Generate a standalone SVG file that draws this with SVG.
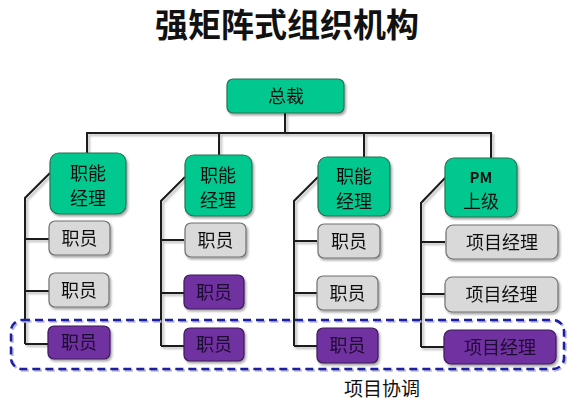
<svg xmlns="http://www.w3.org/2000/svg" width="574" height="400" viewBox="0 0 574 400">
<defs>
<filter id="sh" x="-20%" y="-20%" width="140%" height="150%">
<feDropShadow dx="1.5" dy="2" stdDeviation="1.2" flood-color="#000" flood-opacity="0.35"/>
</filter>
<filter id="lsh" x="-10%" y="-10%" width="120%" height="120%">
<feDropShadow dx="2" dy="2" stdDeviation="0.8" flood-color="#888" flood-opacity="0.6"/>
</filter>
</defs>
<style>
text{font-family:"Noto Sans CJK SC","Noto Sans",sans-serif;text-anchor:middle;fill:#111}
.title{font-size:33px;font-weight:700}
.g{fill:#00C88F;stroke:#2E6E55;stroke-width:1.2}
.n{fill:#D9D9D9;stroke:#707070;stroke-width:1.2}
.p{fill:#7030A0;stroke:#3C1A5A;stroke-width:1.2}
.t{font-size:18px}
.pt{font-size:18px;fill:#1E0A30}
.pm{font-size:15px;font-weight:700}
.c line,.c polyline{stroke:#1a1a1a;stroke-width:2;fill:none}
.lbl{font-size:19px}
</style>
<text class="title" x="287" y="37">强矩阵式组织机构</text>
<g class="c" filter="url(#lsh)">
<line x1="285" y1="113" x2="285" y2="133"/>
<line x1="86" y1="133" x2="492" y2="133"/>
<line x1="87" y1="133" x2="87" y2="153"/>
<line x1="219" y1="133" x2="219" y2="155"/>
<line x1="364" y1="133" x2="364" y2="157"/>
<line x1="491" y1="133" x2="491" y2="158"/>
<polyline points="50,173 25,198 25,344"/>
<line x1="25" y1="239" x2="49" y2="239"/>
<line x1="25" y1="291" x2="49" y2="291"/>
<line x1="25" y1="344" x2="48" y2="344"/>
<polyline points="185,177 161,201 161,346"/>
<line x1="161" y1="240" x2="184" y2="240"/>
<line x1="161" y1="293" x2="184" y2="293"/>
<line x1="161" y1="346" x2="184" y2="346"/>
<polyline points="318,177 294,201 294,346"/>
<line x1="294" y1="241" x2="317" y2="241"/>
<line x1="294" y1="293" x2="317" y2="293"/>
<line x1="294" y1="346" x2="317" y2="346"/>
<polyline points="446,177 421,203 421,347"/>
<line x1="421" y1="242" x2="445" y2="242"/>
<line x1="421" y1="294" x2="445" y2="294"/>
<line x1="421" y1="347" x2="444" y2="347"/>
</g>
<g id="ceo" filter="url(#sh)"><rect class="g" x="227" y="79" width="117" height="34" rx="6"/><text class="t" x="286" y="103">总裁</text></g>
<g id="fm1" filter="url(#sh)"><rect class="g" x="50" y="153" width="76" height="61" rx="9"/><text class="t" x="88" y="180">职能</text><text class="t" x="88" y="205">经理</text></g>
<g id="fm2" filter="url(#sh)"><rect class="g" x="185" y="155" width="67" height="61" rx="9"/><text class="t" x="218" y="182">职能</text><text class="t" x="218" y="207">经理</text></g>
<g id="fm3" filter="url(#sh)"><rect class="g" x="318" y="157" width="72" height="59" rx="9"/><text class="t" x="354" y="183">职能</text><text class="t" x="354" y="208">经理</text></g>
<g id="pm" filter="url(#sh)"><rect class="g" x="445" y="158" width="72" height="59" rx="9"/><text class="pm" x="481" y="183">PM</text><text class="t" x="481" y="208">上级</text></g>
<g id="c1r1" filter="url(#sh)"><rect class="n" x="49" y="221" width="61" height="34" rx="6"/><text class="t" x="79.5" y="244.5">职员</text></g>
<g id="c1r2" filter="url(#sh)"><rect class="n" x="49" y="273" width="60" height="34" rx="6"/><text class="t" x="79" y="296.5">职员</text></g>
<g id="c1r3" filter="url(#sh)"><rect class="p" x="48" y="326" width="62" height="33" rx="6"/><text class="pt" x="79" y="349">职员</text></g>
<g id="c2r1" filter="url(#sh)"><rect class="n" x="185" y="223" width="61" height="34" rx="6"/><text class="t" x="215.5" y="246.5">职员</text></g>
<g id="c2r2" filter="url(#sh)"><rect class="p" x="184" y="275" width="60" height="34" rx="6"/><text class="pt" x="214" y="298.5">职员</text></g>
<g id="c2r3" filter="url(#sh)"><rect class="p" x="184" y="328" width="60" height="33" rx="6"/><text class="pt" x="214" y="351">职员</text></g>
<g id="c3r1" filter="url(#sh)"><rect class="n" x="318" y="224" width="62" height="34" rx="6"/><text class="t" x="349" y="247.5">职员</text></g>
<g id="c3r2" filter="url(#sh)"><rect class="n" x="317" y="276" width="61" height="34" rx="6"/><text class="t" x="347.5" y="299.5">职员</text></g>
<g id="c3r3" filter="url(#sh)"><rect class="p" x="317" y="328" width="61" height="35" rx="6"/><text class="pt" x="347.5" y="352">职员</text></g>
<g id="c4r1" filter="url(#sh)"><rect class="n" x="446" y="225" width="112" height="34" rx="7"/><text class="t" x="502" y="248.5">项目经理</text></g>
<g id="c4r2" filter="url(#sh)"><rect class="n" x="445" y="277" width="113" height="35" rx="7"/><text class="t" x="501.5" y="301">项目经理</text></g>
<g id="c4r3" filter="url(#sh)"><rect class="p" x="444" y="330" width="112" height="34" rx="7"/><text class="pt" x="500" y="353.5">项目经理</text></g>
<g id="coord">
<rect x="11" y="320" width="553" height="49" rx="11" fill="none" stroke="#B8B8D8" stroke-width="2.5" stroke-dasharray="8 5" transform="translate(1.5,1.5)"/>
<rect x="11" y="320" width="553" height="49" rx="11" fill="none" stroke="#1E1EA0" stroke-width="2.5" stroke-dasharray="8 5"/>
<text class="lbl" x="382" y="396">项目协调</text>
</g>
</svg>
